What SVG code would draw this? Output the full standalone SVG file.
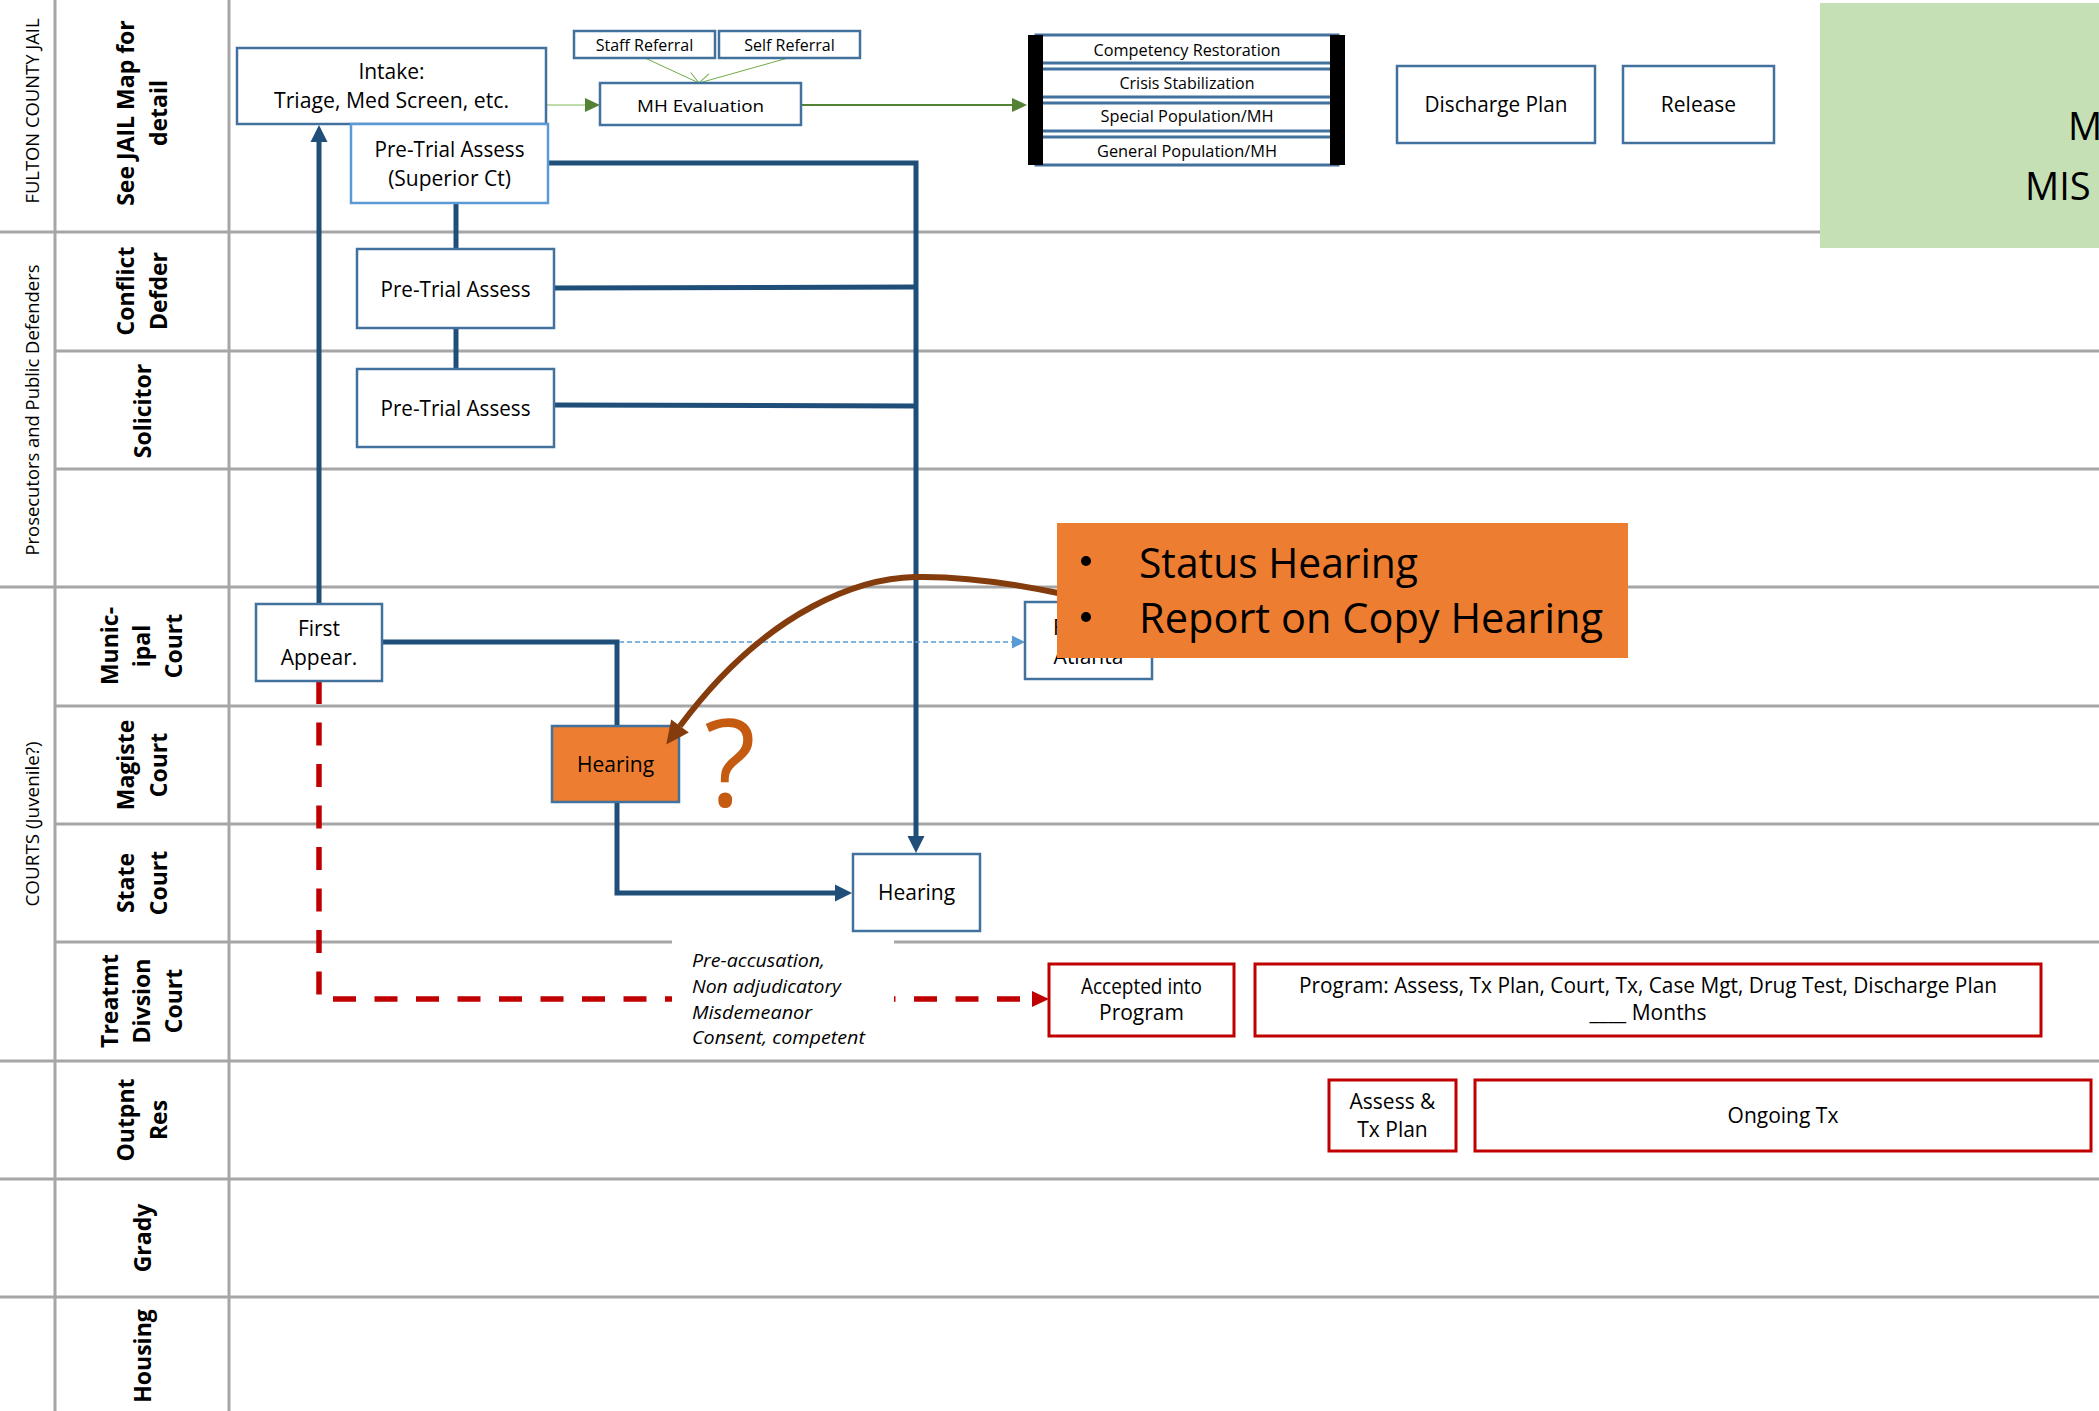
<svg xmlns="http://www.w3.org/2000/svg" width="2099" height="1411" viewBox="0 0 2099 1411">
<style>
  .grid { stroke:#A6A6A6; stroke-width:3; fill:none; }
  .lane { font-family:"Open Sans","DejaVu Sans",sans-serif; font-weight:bold; font-size:23px; fill:#000; text-anchor:middle; }
  .group { font-family:"Open Sans","DejaVu Sans",sans-serif; font-size:18px; fill:#000; text-anchor:middle; }
  .box { fill:#fff; stroke:#41719C; stroke-width:2.5; }
  .boxl { fill:#fff; stroke:#5B9BD5; stroke-width:2.5; }
  .boxo { fill:#ED7D31; stroke:#41719C; stroke-width:2.5; }
  .boxr { fill:#fff; stroke:#C00000; stroke-width:3; }
  .t { font-family:"Open Sans","DejaVu Sans",sans-serif; font-size:21px; fill:#000; text-anchor:middle; }
  .ts { font-family:"Open Sans","DejaVu Sans",sans-serif; font-size:16px; fill:#000; text-anchor:middle; }
  .ti { font-family:"Open Sans","DejaVu Sans",sans-serif; font-size:18px; font-style:italic; fill:#000; }
  .blue { stroke:#1F4E79; stroke-width:5; fill:none; }
  .callt { font-family:"Open Sans","DejaVu Sans",sans-serif; font-size:42px; fill:#000; }
</style>
<defs>
  <marker id="aBlue" markerUnits="userSpaceOnUse" viewBox="0 -9 18 18" markerWidth="18" markerHeight="18" refX="0" refY="0" orient="auto" overflow="visible">
    <path d="M0,-8.5 L17,0 L0,8.5 z" fill="#1F4E79"/>
  </marker>
  <marker id="aGreen" markerUnits="userSpaceOnUse" viewBox="0 -8 16 16" markerWidth="16" markerHeight="16" refX="0" refY="0" orient="auto" overflow="visible">
    <path d="M0,-7 L15,0 L0,7 z" fill="#548235"/>
  </marker>
  <marker id="aRed" markerUnits="userSpaceOnUse" viewBox="0 -9 18 18" markerWidth="18" markerHeight="18" refX="0" refY="0" orient="auto" overflow="visible">
    <path d="M0,-8 L17,0 L0,8 z" fill="#C00000"/>
  </marker>
  <marker id="aLight" markerUnits="userSpaceOnUse" viewBox="0 -7 14 14" markerWidth="14" markerHeight="14" refX="0" refY="0" orient="auto" overflow="visible">
    <path d="M0,-6.5 L13,0 L0,6.5 z" fill="#5B9BD5"/>
  </marker>
  <marker id="aBrown" markerUnits="userSpaceOnUse" viewBox="0 -12 24 24" markerWidth="24" markerHeight="24" refX="0" refY="0" orient="auto" overflow="visible">
    <path d="M0,-11 L23,0 L0,11 z" fill="#843C0C"/>
  </marker>
  <marker id="aOpen" markerUnits="userSpaceOnUse" viewBox="-13 -7 14 14" markerWidth="14" markerHeight="14" refX="0" refY="0" orient="auto" overflow="visible">
    <path d="M-12,-6 L0,0 L-12,6" fill="none" stroke="#70AD47" stroke-width="1"/>
  </marker>
</defs>

<rect x="0" y="0" width="2099" height="1411" fill="#fff"/>

<g id="lanes">
  <line class="grid" x1="55" y1="0" x2="55" y2="1411"/>
  <line class="grid" x1="229" y1="0" x2="229" y2="1411"/>
  <line class="grid" x1="0" y1="232" x2="1820" y2="232"/>
  <line class="grid" x1="55" y1="351" x2="2099" y2="351"/>
  <line class="grid" x1="55" y1="469" x2="2099" y2="469"/>
  <line class="grid" x1="0" y1="587" x2="2099" y2="587"/>
  <line class="grid" x1="55" y1="706" x2="2099" y2="706"/>
  <line class="grid" x1="55" y1="824" x2="2099" y2="824"/>
  <line class="grid" x1="55" y1="942" x2="2099" y2="942"/>
  <line class="grid" x1="0" y1="1061" x2="2099" y2="1061"/>
  <line class="grid" x1="0" y1="1179" x2="2099" y2="1179"/>
  <line class="grid" x1="0" y1="1297" x2="2099" y2="1297"/>

  <text class="group" transform="translate(39,111) rotate(-90)" textLength="185" lengthAdjust="spacingAndGlyphs">FULTON COUNTY JAIL</text>
  <text class="group" transform="translate(39,410) rotate(-90)" textLength="291" lengthAdjust="spacingAndGlyphs">Prosecutors and Public Defenders</text>
  <text class="group" transform="translate(39,824) rotate(-90)" textLength="165" lengthAdjust="spacingAndGlyphs">COURTS (Juvenile?)</text>

  <text class="lane" transform="translate(134,113) rotate(-90)">See JAIL Map for</text>
  <text class="lane" transform="translate(167,113) rotate(-90)">detail</text>
  <text class="lane" transform="translate(134,291) rotate(-90)">Conflict</text>
  <text class="lane" transform="translate(167,291) rotate(-90)">Defder</text>
  <text class="lane" transform="translate(151,411) rotate(-90)">Solicitor</text>
  <text class="lane" transform="translate(118,646) rotate(-90)">Munic-</text>
  <text class="lane" transform="translate(150,646) rotate(-90)">ipal</text>
  <text class="lane" transform="translate(182,646) rotate(-90)">Court</text>
  <text class="lane" transform="translate(134,765) rotate(-90)">Magiste</text>
  <text class="lane" transform="translate(167,765) rotate(-90)">Court</text>
  <text class="lane" transform="translate(134,883) rotate(-90)">State</text>
  <text class="lane" transform="translate(167,883) rotate(-90)">Court</text>
  <text class="lane" transform="translate(118,1001) rotate(-90)">Treatmt</text>
  <text class="lane" transform="translate(150,1001) rotate(-90)">Divsion</text>
  <text class="lane" transform="translate(182,1001) rotate(-90)">Court</text>
  <text class="lane" transform="translate(134,1120) rotate(-90)">Outpnt</text>
  <text class="lane" transform="translate(167,1120) rotate(-90)">Res</text>
  <text class="lane" transform="translate(151,1238) rotate(-90)">Grady</text>
  <text class="lane" transform="translate(151,1356) rotate(-90)">Housing</text>
</g>

<g id="mis-box">
  <rect x="1820" y="3" width="279" height="245" fill="#C5E0B4"/>
  <text x="2068" y="140" font-family="Open Sans, DejaVu Sans, sans-serif" font-size="38" fill="#000">M</text>
  <text x="2025" y="200" font-family="Open Sans, DejaVu Sans, sans-serif" font-size="38" fill="#000">MIS</text>
</g>

<g id="connectors">
  <!-- green -->
  <line x1="547" y1="105" x2="585" y2="105" stroke="#A9D18E" stroke-width="1.5" marker-end="url(#aGreen)"/>
  <line x1="801" y1="105" x2="1012" y2="105" stroke="#548235" stroke-width="2" marker-end="url(#aGreen)"/>
  <line x1="645" y1="58" x2="699" y2="83" stroke="#70AD47" stroke-width="1" marker-end="url(#aOpen)"/>
  <line x1="788" y1="58" x2="699" y2="83" stroke="#70AD47" stroke-width="1" marker-end="url(#aOpen)"/>
  <!-- blue -->
  <line class="blue" x1="319" y1="604" x2="319" y2="142" marker-end="url(#aBlue)"/>
  <line class="blue" x1="456" y1="203" x2="456" y2="249"/>
  <line class="blue" x1="456" y1="328" x2="456" y2="369"/>
  <polyline class="blue" points="548,163 916,163 916,836" marker-end="url(#aBlue)"/>
  <line class="blue" x1="554" y1="288" x2="916" y2="287"/>
  <line class="blue" x1="554" y1="405" x2="916" y2="406"/>
  <polyline class="blue" points="383,642 617,642 617,726"/>
  <polyline class="blue" points="617,802 617,893 835,893" marker-end="url(#aBlue)"/>
  <!-- light blue dashed -->
  <line x1="619" y1="642" x2="1012" y2="642" stroke="#5B9BD5" stroke-width="1.5" stroke-dasharray="5 3" marker-end="url(#aLight)"/>
  <!-- red dashed -->
  <polyline points="319,681 319,999 1032,999" fill="none" stroke="#C00000" stroke-width="5.5" stroke-dasharray="23 18.5" marker-end="url(#aRed)"/>
</g>

<g id="intake">
  <rect class="box" x="237" y="48" width="309" height="76"/>
  <text class="t" x="391.5" y="79">Intake:</text>
  <text class="t" x="391.5" y="108" textLength="235" lengthAdjust="spacingAndGlyphs">Triage, Med Screen, etc.</text>
</g>
<g id="pta-superior">
  <rect class="boxl" x="351" y="124" width="197" height="79"/>
  <text class="t" x="449.5" y="157" textLength="150" lengthAdjust="spacingAndGlyphs">Pre-Trial Assess</text>
  <text class="t" x="449.5" y="186">(Superior Ct)</text>
</g>
<g id="staff-referral">
  <rect class="box" x="574" y="31" width="141" height="27"/>
  <text class="ts" x="644.5" y="51">Staff Referral</text>
</g>
<g id="self-referral">
  <rect class="box" x="719" y="31" width="141" height="27"/>
  <text class="ts" x="789.5" y="51">Self Referral</text>
</g>
<g id="mh-evaluation">
  <rect class="box" x="600" y="83" width="201" height="42"/>
  <text class="ts" x="700.5" y="112" font-size="17" textLength="127" lengthAdjust="spacingAndGlyphs">MH Evaluation</text>
</g>
<g id="placement-stack">
  <rect x="1036" y="35" width="302" height="28" fill="#fff" stroke="#41719C" stroke-width="3"/>
  <rect x="1036" y="69" width="302" height="28" fill="#fff" stroke="#41719C" stroke-width="3"/>
  <rect x="1036" y="103" width="302" height="28" fill="#fff" stroke="#41719C" stroke-width="3"/>
  <rect x="1036" y="137" width="302" height="28" fill="#fff" stroke="#41719C" stroke-width="3"/>
  <rect x="1028" y="35" width="15" height="130" fill="#000"/>
  <rect x="1330" y="35" width="15" height="130" fill="#000"/>
  <text class="ts" x="1187" y="56" textLength="187" lengthAdjust="spacingAndGlyphs">Competency Restoration</text>
  <text class="ts" x="1187" y="89" textLength="135" lengthAdjust="spacingAndGlyphs">Crisis Stabilization</text>
  <text class="ts" x="1187" y="122" textLength="173" lengthAdjust="spacingAndGlyphs">Special Population/MH</text>
  <text class="ts" x="1187" y="157" textLength="180" lengthAdjust="spacingAndGlyphs">General Population/MH</text>
</g>
<g id="discharge-plan">
  <rect class="box" x="1397" y="66" width="198" height="77"/>
  <text class="t" x="1496" y="112" textLength="143" lengthAdjust="spacingAndGlyphs">Discharge Plan</text>
</g>
<g id="release">
  <rect class="box" x="1623" y="66" width="151" height="77"/>
  <text class="t" x="1698.5" y="112">Release</text>
</g>
<g id="pta-conflict">
  <rect class="box" x="357" y="249" width="197" height="79"/>
  <text class="t" x="455.5" y="297" textLength="150" lengthAdjust="spacingAndGlyphs">Pre-Trial Assess</text>
</g>
<g id="pta-solicitor">
  <rect class="box" x="357" y="369" width="197" height="78"/>
  <text class="t" x="455.5" y="416" textLength="150" lengthAdjust="spacingAndGlyphs">Pre-Trial Assess</text>
</g>
<g id="first-appear">
  <rect class="box" x="256" y="604" width="126" height="77"/>
  <text class="t" x="319" y="636">First</text>
  <text class="t" x="319" y="665">Appear.</text>
</g>
<g id="atlanta">
  <rect class="box" x="1025" y="602" width="127" height="77"/>
  <text class="t" x="1053" y="635" style="text-anchor:start">F</text>
  <text class="t" x="1088.5" y="664">Atlanta</text>
</g>
<g id="hearing-magistrate">
  <rect class="boxo" x="552" y="726" width="127" height="76"/>
  <text class="t" x="615.5" y="772">Hearing</text>
</g>
<g id="hearing-state">
  <rect class="box" x="853" y="854" width="127" height="77"/>
  <text class="t" x="916.5" y="900">Hearing</text>
</g>
<g id="criteria-note">
  <rect x="672" y="938" width="222" height="120" fill="#fff"/>
  <text class="ti" x="692" y="967" textLength="133" lengthAdjust="spacingAndGlyphs">Pre-accusation,</text>
  <text class="ti" x="692" y="993" textLength="149" lengthAdjust="spacingAndGlyphs">Non adjudicatory</text>
  <text class="ti" x="692" y="1019" textLength="120" lengthAdjust="spacingAndGlyphs">Misdemeanor</text>
  <text class="ti" x="692" y="1044" textLength="173" lengthAdjust="spacingAndGlyphs">Consent, competent</text>
</g>
<g id="accepted">
  <rect class="boxr" x="1049" y="964" width="185" height="72"/>
  <text class="t" x="1141.5" y="994" font-size="19" textLength="121" lengthAdjust="spacingAndGlyphs">Accepted into</text>
  <text class="t" x="1141.5" y="1020" font-size="19">Program</text>
</g>
<g id="program">
  <rect class="boxr" x="1255" y="964" width="786" height="72"/>
  <text class="t" x="1648" y="993" font-size="19.5" textLength="698" lengthAdjust="spacingAndGlyphs">Program: Assess, Tx Plan, Court, Tx, Case Mgt, Drug Test, Discharge Plan</text>
  <text class="t" x="1648" y="1020" font-size="19.5">____ Months</text>
</g>
<g id="assess-tx-plan">
  <rect class="boxr" x="1329" y="1080" width="127" height="71"/>
  <text class="t" x="1392.5" y="1109" font-size="20">Assess &amp;</text>
  <text class="t" x="1392.5" y="1137" font-size="20">Tx Plan</text>
</g>
<g id="ongoing-tx">
  <rect class="boxr" x="1475" y="1080" width="616" height="71"/>
  <text class="t" x="1783" y="1123" font-size="20">Ongoing Tx</text>
</g>

<g id="question">
  <text x="730" y="806" font-family="Open Sans, DejaVu Sans, sans-serif" font-size="120" fill="#C55A11" text-anchor="middle">?</text>
</g>

<g id="callout-connector">
  <path d="M1058,593 C1010,583 960,576 915,577 C865,578 770,605 680,726" fill="none" stroke="#843C0C" stroke-width="6" marker-end="url(#aBrown)"/>
</g>

<g id="callout">
  <rect x="1057" y="523" width="571" height="135" fill="#ED7D31"/>
  <circle cx="1086" cy="561" r="5" fill="#000"/>
  <circle cx="1086" cy="617" r="5" fill="#000"/>
  <text class="callt" x="1139" y="578" textLength="279" lengthAdjust="spacingAndGlyphs">Status Hearing</text>
  <text class="callt" x="1139" y="633" textLength="464" lengthAdjust="spacingAndGlyphs">Report on Copy Hearing</text>
</g>
</svg>
